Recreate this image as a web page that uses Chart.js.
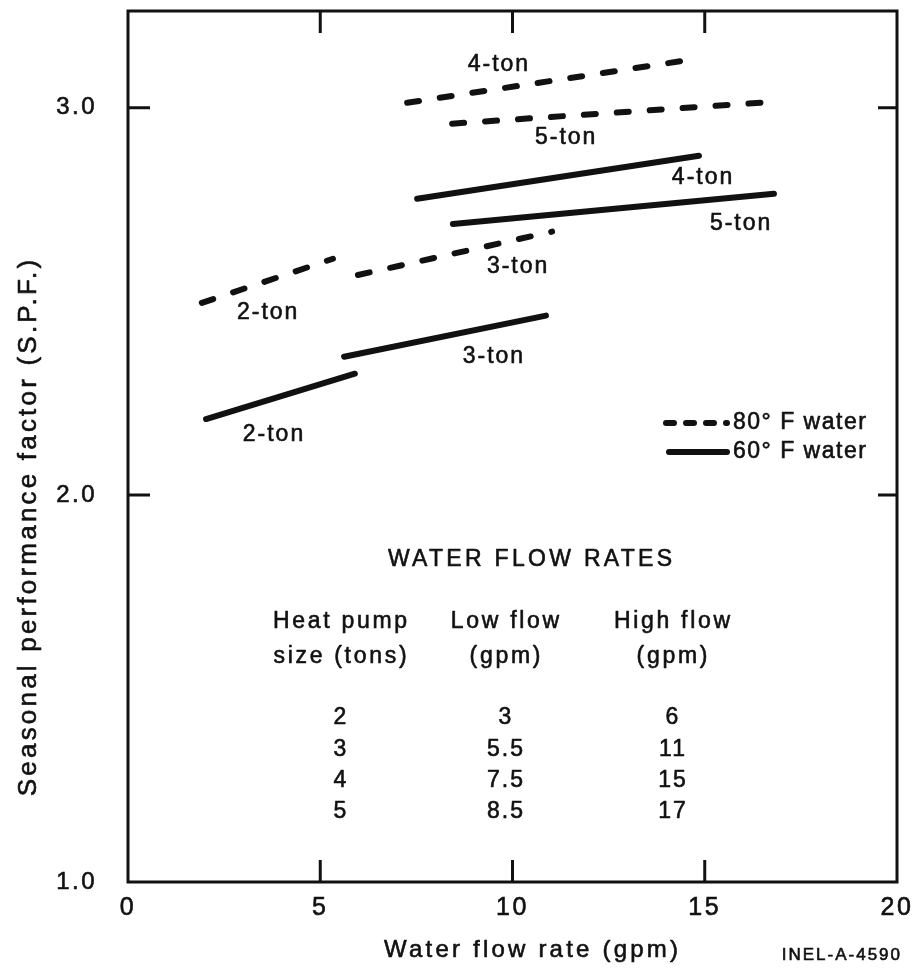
<!DOCTYPE html>
<html>
<head>
<meta charset="utf-8">
<title>Seasonal performance factor vs. water flow rate</title>
<script src="https://cdn.jsdelivr.net/npm/chart.js@4.4.1/dist/chart.umd.min.js"></script>
<style>
  html, body { margin: 0; padding: 0; background: #fff; }
  #wrap { width: 917px; height: 974px; }
</style>
</head>
<body>
<div id="wrap"><canvas id="spfChart" width="917" height="974"></canvas></div>
<script>
// Heat pump S.P.F. against water flow rate, 80°F and 60°F source water

const SIZES = ['2-ton', '3-ton', '4-ton', '5-ton'];

// 80°F water (dashed): [low-flow end, high-flow end] for each size
const FLOW_80F = [[1.92, 5.33], [5.98, 11.03], [7.26, 14.82], [8.43, 16.88]];
const SPF_80F  = [[2.496, 2.610], [2.568, 2.680], [3.013, 3.127], [2.959, 3.016]];

// 60°F water (solid)
const FLOW_60F = [[2.03, 5.90], [5.62, 10.87], [7.52, 14.85], [8.45, 16.80]];
const SPF_60F  = [[2.196, 2.313], [2.357, 2.463], [2.765, 2.876], [2.700, 2.778]];

const X_TICKS = [0, 5, 10, 15, 20];
const Y_TICKS = [1.0, 2.0, 3.0];

// Water flow rates table
const TABLE_TITLE = 'WATER FLOW RATES';
const TABLE_HEAD = [['Heat pump', 'size (tons)'], ['Low flow', '(gpm)'], ['High flow', '(gpm)']];
const TABLE_TONS = ['2', '3', '4', '5'];
const TABLE_LOW  = ['3', '5.5', '7.5', '8.5'];
const TABLE_HIGH = ['6', '11', '15', '17'];

const INK = '#111';
const FONT = '"Liberation Sans", Arial, sans-serif';
const DASH = [12, 21];

// where each size label sits, in data units
const LABELS_80F = [[3.62, 2.470], [10.12, 2.589], [9.62, 3.111], [11.37, 2.922]];
const LABELS_60F = [[3.77, 2.155], [9.49, 2.357], [14.93, 2.819], [15.92, 2.700]];

function segment(xs, ys) {
  return xs.map((x, j) => ({ x, y: ys[j] }));
}

const datasets = [];
SIZES.forEach((size, i) => {
  datasets.push({
    label: size + ' 80°F',
    data: segment(FLOW_80F[i], SPF_80F[i]),
    borderDash: DASH,
  });
  datasets.push({
    label: size + ' 60°F',
    data: segment(FLOW_60F[i], SPF_60F[i]),
    borderDash: [],
  });
});
datasets.forEach(ds => Object.assign(ds, {
  showLine: true,
  borderColor: INK,
  borderWidth: 6,
  borderCapStyle: 'round',
  pointRadius: 0,
  fill: false,
}));

// ── Frame, inward ticks and annotations ──────────────────

function text(ctx, str, x, y, size, align = 'center', spacing = 2) {
  ctx.font = `${size}px ${FONT}`;
  ctx.letterSpacing = spacing + 'px';
  ctx.textAlign = align;
  ctx.textBaseline = 'middle';
  // letter spacing adds a trailing gap, pull centred text back by half of it
  const shift = align === 'center' ? spacing / 2 : 0;
  ctx.fillText(str, x + shift, y);
  ctx.strokeText(str, x + shift, y);
}

// the frame is drawn by hand, so drop the label overhang the scales reserve
function noScalePadding(s) {
  s.paddingTop = 0;
  s.paddingBottom = 0;
  s.paddingLeft = 0;
  s.paddingRight = 0;
}

const framePlugin = {
  id: 'frame',
  beforeDraw(chart) {
    // tick labels get the same loose spacing as the rest
    chart.ctx.letterSpacing = '2.5px';
  },
  afterDraw(chart) {
    const { ctx, chartArea: a, scales: { x, y } } = chart;
    ctx.save();
    ctx.strokeStyle = INK;
    ctx.fillStyle = INK;
    ctx.lineWidth = 3;
    ctx.lineCap = 'butt';
    ctx.strokeRect(a.left, a.top, a.right - a.left, a.bottom - a.top);

    ctx.beginPath();
    [5, 10, 15].forEach(v => {
      const px = x.getPixelForValue(v);
      ctx.moveTo(px, a.top); ctx.lineTo(px, a.top + 22);
      ctx.moveTo(px, a.bottom); ctx.lineTo(px, a.bottom - 22);
    });
    [2, 3].forEach(v => {
      const py = y.getPixelForValue(v);
      ctx.moveTo(a.left, py); ctx.lineTo(a.left + 22, py);
      ctx.moveTo(a.right, py); ctx.lineTo(a.right - 19, py);
    });
    ctx.stroke();

    ctx.lineWidth = 0.6;
    ctx.lineJoin = 'round';

    // size labels beside each line
    SIZES.forEach((size, i) => {
      text(ctx, size, x.getPixelForValue(LABELS_80F[i][0]), y.getPixelForValue(LABELS_80F[i][1]), 23);
      text(ctx, size, x.getPixelForValue(LABELS_60F[i][0]), y.getPixelForValue(LABELS_60F[i][1]), 23);
    });

    // table
    text(ctx, TABLE_TITLE, 530, 560, 23, 'center', 3.3);
    const cols = [340, 505, 672];
    TABLE_HEAD.forEach((lines, c) => {
      text(ctx, lines[0], cols[c], 622, 23, 'center', 2.7);
      text(ctx, lines[1], cols[c], 657, 23, 'center', 2.7);
    });
    const rowY = [718, 750, 781, 812];
    TABLE_TONS.forEach((t, r) => {
      text(ctx, t, cols[0], rowY[r], 23);
      text(ctx, TABLE_LOW[r], cols[1], rowY[r], 23);
      text(ctx, TABLE_HIGH[r], cols[2], rowY[r], 23);
    });

    // axis titles
    text(ctx, 'Water flow rate (gpm)', 531, 950, 24, 'center', 3.2);
    text(ctx, 'INEL-A-4590', 902, 955, 17, 'right', 2);
    ctx.save();
    ctx.translate(29, 528);
    ctx.rotate(-Math.PI / 2);
    text(ctx, 'Seasonal performance factor (S.P.F.)', 0, 0, 26, 'center', 3.2);
    ctx.restore();

    // legend
    text(ctx, '80° F water', 733, 423, 23, 'left', 1.5);
    text(ctx, '60° F water', 733, 452, 23, 'left', 1.5);
    ctx.lineWidth = 6;
    ctx.lineCap = 'round';
    ctx.setLineDash([8, 12]);
    ctx.beginPath(); ctx.moveTo(666, 423); ctx.lineTo(727, 423); ctx.stroke();
    ctx.setLineDash([]);
    ctx.beginPath(); ctx.moveTo(669, 452); ctx.lineTo(727, 452); ctx.stroke();

    ctx.restore();
  },
};

new Chart(document.getElementById('spfChart'), {
  type: 'scatter',
  data: { datasets },
  options: {
    responsive: false,
    animation: false,
    layout: { padding: { left: 0, right: 20, top: 11, bottom: 0 } },
    plugins: { legend: { display: false }, tooltip: { enabled: false } },
    scales: {
      x: {
        type: 'linear',
        min: 0, max: 20,
        grid: { display: false, drawTicks: false },
        border: { display: false },
        afterBuildTicks: s => { s.ticks = X_TICKS.map(value => ({ value })); },
        afterFit: s => { s.height = 92; noScalePadding(s); },
        ticks: {
          padding: 11,
          color: INK,
          textStrokeColor: INK,
          textStrokeWidth: 0.6,
          font: { family: FONT, size: 25 },
          maxRotation: 0,
        },
      },
      y: {
        type: 'linear',
        min: 1.0, max: 3.25,
        grid: { display: false, drawTicks: false },
        border: { display: false },
        afterBuildTicks: s => { s.ticks = Y_TICKS.map(value => ({ value })); },
        afterFit: s => { s.width = 128; noScalePadding(s); },
        ticks: {
          padding: 31,
          color: INK,
          textStrokeColor: INK,
          textStrokeWidth: 0.6,
          font: { family: FONT, size: 24 },
          callback: v => Number(v).toFixed(1),
        },
      },
    },
  },
  plugins: [framePlugin],
});
</script>
</body>
</html>
